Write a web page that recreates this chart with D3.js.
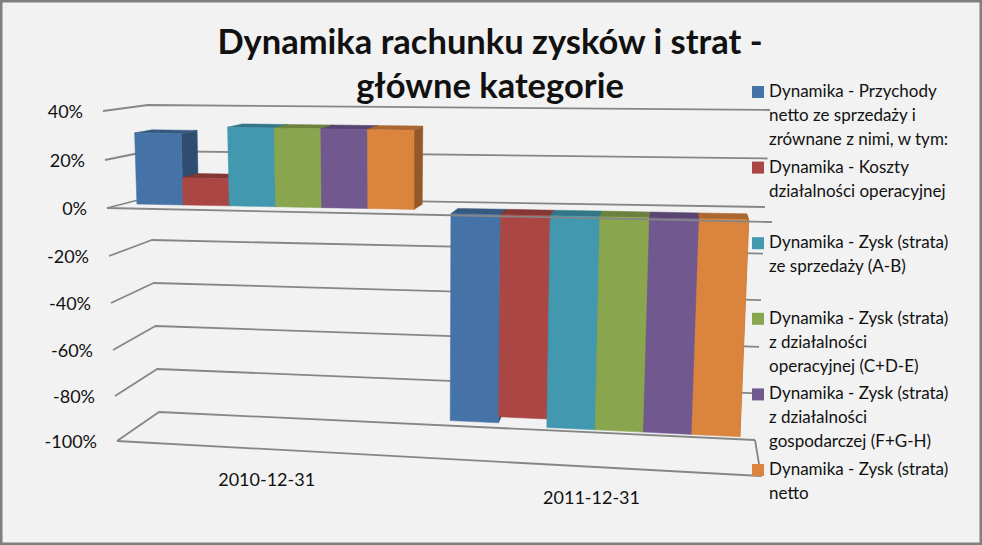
<!DOCTYPE html>
<html>
<head>
<meta charset="UTF-8">
<title>Dynamika rachunku zysków i strat</title>
<script src="https://d3js.org/d3.v7.min.js"></script>
<style>
    body { margin: 0; background: #f2f2f2; overflow: hidden; }
    text { font-family: Lato, "Open Sans", sans-serif; fill: #111; }
</style>
</head>
<body>
<script>
const categories = ["2010-12-31", "2011-12-31"];
const seriesNames = [
    ["Dynamika - Przychody", "netto ze sprzedaży i", "zrównane z nimi, w tym:"],
    ["Dynamika - Koszty", "działalności operacyjnej"],
    ["Dynamika - Zysk (strata)", "ze sprzedaży (A-B)"],
    ["Dynamika - Zysk (strata)", "z działalności", "operacyjnej (C+D-E)"],
    ["Dynamika - Zysk (strata)", "z działalności", "gospodarczej (F+G-H)"],
    ["Dynamika - Zysk (strata)", "netto"]
];
const colors = ["#4572a7", "#aa4643", "#4198af", "#89a54e", "#71588f", "#db843d"];
const values2010 = [30, 11.5, 33, 33, 33, 33];
const values2011 = [-85.5, -83, -86.5, -86.5, -86.5, -86.5];
const tickValues = [40, 20, 0, -20, -40, -60, -80, -100];
const titleLines = ["Dynamika rachunku zysków i strat -", "główne kategorie"];

const width = 982, height = 545;
const svg = d3.select("body").append("svg").attr("width", width).attr("height", height);

svg.append("rect").attr("x", 1.25).attr("y", 1.25).attr("width", width - 2.5).attr("height", height - 2.5)
    .attr("fill", "#f2f2f2").attr("stroke", "#7f7f7f").attr("stroke-width", 2.5);

// the 3d box: one scale per vertical edge, blended in u (left-right) and z (front-back)
const vDomain = [40, 0, -100];
const edge = r => d3.scaleLinear().domain(vDomain).range(r);
const xLF = edge([103, 107, 117]);
const yLF = d3.scaleLinear().domain(tickValues).range([111, 160, 208, 256, 303, 350, 396, 441]);
const xLB = edge([148, 150, 159]), yLB = edge([105, 197, 412]);
const xRF = edge([775, 772, 761]), yRF = edge([125, 222, 476]);
const xRB = edge([770, 765, 755]), yRB = edge([110, 207, 440]);

function project(u, v, z) {
    const mix = (lf, lb, rf, rb) => {
        const l = d3.interpolateNumber(lf(v), lb(v))(z);
        const r = d3.interpolateNumber(rf(v), rb(v))(z);
        return d3.interpolateNumber(l, r)(u);
    };
    return [mix(xLF, xLB, xRF, xRB), mix(yLF, yLB, yRF, yRB)];
}

const line = d3.line();
const gridColor = "#868686";

function gridPath(pts, w) {
    svg.append("path").attr("d", line(pts)).attr("fill", "none")
        .attr("stroke", gridColor).attr("stroke-width", w || 1.8).attr("stroke-linejoin", "round");
}

// back wall and left wall lines
tickValues.forEach(v => {
    gridPath([project(0, v, 0), project(0, v, 1), project(1, v, 1)]);
});
gridPath([project(0, -100, 0), project(1, -100, 0), project(1, -100, 1)]);

// axis labels
tickValues.forEach(v => {
    const p = project(0, v, 0);
    svg.append("text").attr("x", p[0] - 20).attr("y", p[1] + 7)
        .attr("text-anchor", "end").attr("font-size", 18).text(v + "%");
});

// bars, each category has its own stretch of the floor
const catRange = [[0.021, 0.45], [0.514, 0.966]];
const zStart = [0.38, 0.12], barDepth = 0.4;

function poly(pts, fill) {
    svg.append("path").attr("d", line(pts) + "Z").attr("fill", fill)
        .attr("stroke", fill).attr("stroke-width", 0.5);
}

[values2010, values2011].forEach((vals, c) => {
    const serScale = d3.scaleBand().domain(d3.range(colors.length)).range(catRange[c]);
    vals.forEach((val, s) => {
        const u0 = serScale(s), u1 = u0 + serScale.bandwidth();
        const z0 = zStart[c], z1 = z0 + barDepth;
        const top = Math.max(val, 0), bot = Math.min(val, 0);
        const col = d3.color(colors[s]);
        poly([project(u1, top, z0), project(u1, top, z1), project(u1, bot, z1), project(u1, bot, z0)], col.darker(1.1));
        poly([project(u0, top, z0), project(u0, top, z1), project(u1, top, z1), project(u1, top, z0)], col.darker(0.7));
        poly([project(u0, top, z0), project(u1, top, z0), project(u1, bot, z0), project(u0, bot, z0)], colors[s]);
    });
});

// zero line crosses in front of the bars
gridPath([project(0, 0, 0), project(1, 0, 0)]);

// category labels
categories.forEach((cat, c) => {
    const p = project((catRange[c][0] + catRange[c][1]) / 2, -100, 0);
    svg.append("text").attr("x", p[0] - 2).attr("y", p[1] + 37)
        .attr("text-anchor", "middle").attr("font-size", 18).text(cat);
});

// title
titleLines.forEach((t, i) => {
    svg.append("text").attr("x", 490).attr("y", 54 + i * 44)
        .attr("text-anchor", "middle").attr("font-size", 34.5).attr("font-weight", 700).attr("fill", "#000").text(t);
});

// legend
const legendY = d3.scalePoint().domain(d3.range(seriesNames.length)).range([92, 470]);
seriesNames.forEach((lines, i) => {
    const y = legendY(i);
    svg.append("rect").attr("x", 752).attr("y", y - 6).attr("width", 12).attr("height", 12).attr("fill", colors[i]);
    lines.forEach((t, j) => {
        svg.append("text").attr("x", 769).attr("y", y + 5 + j * 24).attr("font-size", 17).text(t);
    });
});
</script>
</body>
</html>
